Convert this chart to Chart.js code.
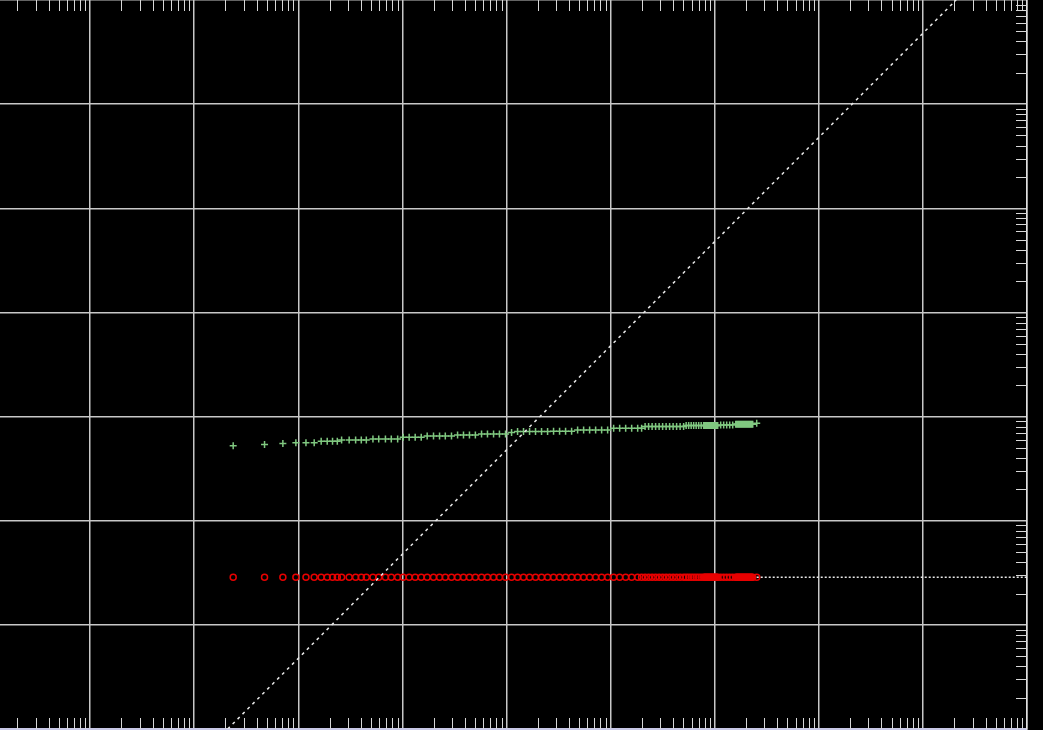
<!DOCTYPE html>
<html>
<head>
<meta charset="utf-8">
<title>chart</title>
<script src="https://cdn.jsdelivr.net/npm/chart.js@4"></script>
<style>
    html, body { margin: 0; padding: 0; background: #000; }
    canvas { display: block; }
</style>
</head>
<body>
<canvas id="chart" width="1043" height="730"></canvas>
<script>

// abscisses des points (communes aux deux séries)
const xValues = [
    1, 2, 3, 4, 5, 6, 7, 8, 9,
    10, 11, 13, 15, 17, 19, 22, 25, 29, 33, 38, 43, 49, 56, 64, 73, 84, 96, 109, 125,
    143, 163, 186, 212, 243, 277, 317, 361, 413, 472, 539, 615, 703, 802, 916, 1047,
    1195, 1365, 1559, 1781, 2034, 2323, 2653, 3030, 3460, 3952, 4514, 5155, 5888, 6724, 7680,
    8377, 9051, 9780, 10567, 11418, 12337, 13330, 14403, 15563, 16815, 18169, 19631, 21211,
    22439, 23716, 25066, 26492, 28000, 29594, 31278,
    33055, 33795, 34552, 35326, 36117, 36926, 37753, 38598, 39463, 40346, 41250, 42174, 43118, 44084, 45071,
    48154, 51462, 54998, 58776, 62814,
    67128, 68631, 70168, 71739, 73345, 74988, 76667, 78384, 80139, 81934, 83768, 85644, 87562,
    89523, 91527, 93577, 95672, 97815,
    106860
];

const greenY = [
    526, 538, 550, 562, 562, 562, 579, 579, 579,
    579, 597, 597, 597, 597, 597, 610, 610, 610, 610, 610, 632, 632, 632, 632, 652, 652, 652, 652, 652,
    667, 667, 667, 667, 682, 682, 682, 682, 682, 703, 717, 717, 717, 717, 717, 717,
    722, 722, 722, 722, 745, 745, 745, 745, 745, 745, 772, 772, 772, 772, 772,
    772, 801, 801, 801, 801, 801, 801, 801, 801, 801, 801, 801, 801,
    819, 819, 819, 819, 819, 819, 819,
    819, 819, 819, 819, 819, 819, 819, 819, 819, 819, 819, 819, 819, 819, 819,
    832, 832, 832, 832, 832,
    843, 843, 843, 843, 843, 843, 843, 843, 843, 843, 843, 843, 843,
    843, 843, 843, 843, 843,
    862
];

const redY = [
    28.6, 28.6, 28.6, 28.6, 28.6, 28.6, 28.6, 28.6, 28.6,
    28.6, 28.6, 28.6, 28.6, 28.6, 28.6, 28.6, 28.6, 28.6, 28.6, 28.6, 28.6, 28.6, 28.6, 28.6, 28.6, 28.6, 28.6, 28.6, 28.6,
    28.6, 28.6, 28.6, 28.6, 28.6, 28.6, 28.6, 28.6, 28.6, 28.6, 28.6, 28.6, 28.6, 28.6, 28.6, 28.6,
    28.6, 28.6, 28.6, 28.6, 28.6, 28.6, 28.6, 28.6, 28.6, 28.6, 28.6, 28.6, 28.6, 28.6, 28.6,
    28.6, 28.6, 28.6, 28.6, 28.6, 28.6, 28.6, 28.6, 28.6, 28.6, 28.6, 28.6, 28.6,
    28.6, 28.6, 28.6, 28.6, 28.6, 28.6, 28.6,
    28.6, 28.6, 28.6, 28.6, 28.6, 28.6, 28.6, 28.6, 28.6, 28.6, 28.6, 28.6, 28.6, 28.6, 28.6,
    28.6, 28.6, 28.6, 28.6, 28.6,
    28.6, 28.6, 28.6, 28.6, 28.6, 28.6, 28.6, 28.6, 28.6, 28.6, 28.6, 28.6, 28.6,
    28.6, 28.6, 28.6, 28.6, 28.6,
    28.6
];

// droites de référence (pointillés)
const diagX = [0.885, 8.8e6];
const diagY = [1, 1e7];
const flatX = [106860, 4.217e7];
const flatY = [28.6, 28.6];

// lignes de grille (décades)
const gridX = [0.04217, 0.4217, 4.217, 42.17, 421.7, 4217, 42170, 421700, 4217000, 42170000];
const gridY = [1, 10, 100, 1000, 10000, 100000, 1000000, 10000000];

const X_MIN = 0.005755;
const X_MAX = 42170000;

const GRID_COLOR = "#c8c8c8";
const TICK_COLOR = "#d8d8d8";
const LINE_COLOR = "#e8e8e8";


function toPoints(xs, ys) {
    return xs.map((x, i) => ({ x, y: ys[i] }));
}


// fond noir
const blackBackground = {
    id: "blackBackground",
    beforeDraw(chart) {
        const ctx = chart.ctx;
        ctx.save();
        ctx.fillStyle = "#000";
        ctx.fillRect(0, 0, chart.width, chart.height);
        ctx.restore();
    }
};

// petites graduations log, vers l'intérieur (haut, bas, droite)
const minorTicks = {
    id: "minorTicks",
    afterDraw(chart) {
        const { ctx, chartArea: a, scales: { x, y } } = chart;
        const len = 11;
        ctx.save();
        ctx.strokeStyle = TICK_COLOR;
        ctx.lineWidth = 1;
        ctx.beginPath();
        [gridX[0] / 10, ...gridX].forEach(d => {
            for (let k = 2; k < 10; k++) {
                const px = Math.round(x.getPixelForValue(d * k)) + 0.5;
                if (px < a.left || px > a.right) continue;
                ctx.moveTo(px, a.top);
                ctx.lineTo(px, a.top + len);
                ctx.moveTo(px, a.bottom);
                ctx.lineTo(px, a.bottom - len);
            }
        });
        gridY.forEach(d => {
            for (let k = 2; k < 10; k++) {
                const py = Math.round(y.getPixelForValue(d * k)) + 0.5;
                if (py < a.top || py > a.bottom) continue;
                ctx.moveTo(a.right - len, py);
                ctx.lineTo(a.right, py);
            }
        });
        ctx.stroke();
        ctx.restore();
    }
};


new Chart(document.getElementById("chart"), {
    type: "scatter",
    data: {
        datasets: [
            {
                data: toPoints(diagX, diagY),
                showLine: true,
                borderColor: LINE_COLOR,
                borderWidth: 1.5,
                borderDash: [3, 4],
                pointRadius: 0
            },
            {
                data: toPoints(flatX, flatY),
                showLine: true,
                borderColor: LINE_COLOR,
                borderWidth: 1.5,
                borderDash: [2, 2],
                pointRadius: 0
            },
            {
                data: toPoints(xValues, greenY),
                pointStyle: "cross",
                pointRadius: 3.5,
                borderColor: "#80c880",
                borderWidth: 1.5
            },
            {
                data: toPoints(xValues, redY),
                pointStyle: "circle",
                pointRadius: 3,
                borderColor: "#e80000",
                backgroundColor: "rgba(0,0,0,0)",
                borderWidth: 1.5
            }
        ]
    },
    options: {
        responsive: false,
        animation: false,
        layout: { autoPadding: false, padding: { left: 0, top: 0, right: 16, bottom: 1 } },
        plugins: {
            legend: { display: false },
            tooltip: { enabled: false }
        },
        scales: {
            x: {
                type: "logarithmic",
                position: "bottom",
                min: X_MIN,
                max: X_MAX,
                afterBuildTicks: s => { s.ticks = gridX.map(v => ({ value: v })); },
                ticks: { display: false },
                grid: { color: GRID_COLOR, lineWidth: 1.5, drawTicks: false },
                border: { display: true, color: "#c8c8e6", width: 2 }
            },
            y: {
                type: "logarithmic",
                position: "right",
                min: 1,
                max: 1e7,
                afterBuildTicks: s => { s.ticks = gridY.map(v => ({ value: v })); },
                ticks: { display: false },
                grid: { color: GRID_COLOR, lineWidth: 1.5, drawTicks: false },
                border: { display: true, color: "#e0e0e0", width: 1.5 }
            }
        }
    },
    plugins: [blackBackground, minorTicks]
});

</script>
</body>
</html>
